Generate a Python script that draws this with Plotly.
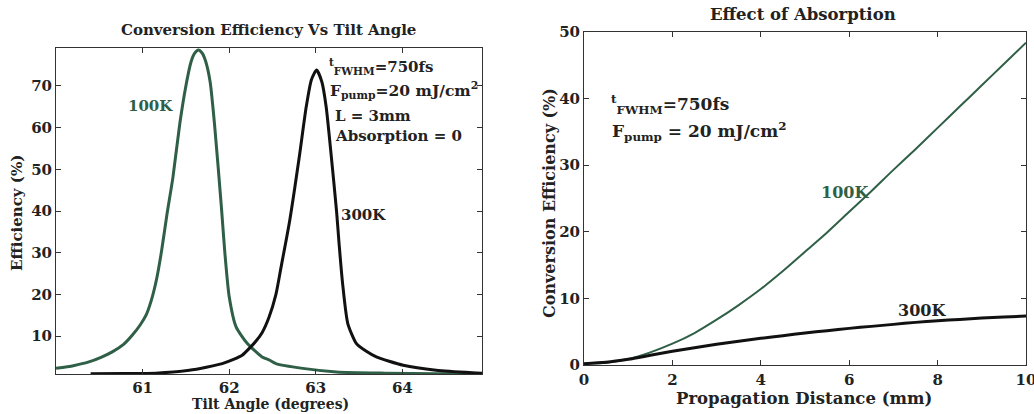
import plotly.graph_objects as go

# ---------------- data ----------------
tilt_100k = [60.0, 60.2, 60.38, 60.52, 60.65, 60.78, 60.88, 60.97, 61.04, 61.1, 61.16, 61.22, 61.28, 61.35,
             61.43, 61.5, 61.56, 61.6, 61.645, 61.69, 61.73, 61.78, 61.83, 61.91, 61.95, 62.0, 62.08, 62.21,
             62.38, 62.47, 62.54, 62.85, 63.24, 63.8, 64.4, 64.92]
eff_100k = [2.25, 2.9, 3.8, 4.9, 6.2, 8.0, 10.2, 12.6, 15.0, 18.5, 23.5, 30.5, 39.0, 48.0,
            61.0, 70.0, 75.8, 77.8, 78.6, 77.8, 75.8, 71.0, 61.0, 41.0, 30.0, 19.5, 12.2, 8.2,
            5.0, 4.2, 3.4, 2.25, 1.4, 1.1, 0.95, 0.9]

tilt_300k = [60.4, 60.8, 61.15, 61.54, 61.75, 61.92, 62.05, 62.15, 62.24, 62.31, 62.38, 62.46,
             62.54, 62.6, 62.7, 62.81, 62.89, 62.95, 63.01, 63.07, 63.12, 63.18, 63.24, 63.27,
             63.31, 63.37, 63.47, 63.58, 63.7, 64.01, 64.39, 64.81, 64.92]
eff_300k = [0.95, 1.0, 1.1, 1.8, 2.6, 3.4, 4.4, 5.4, 7.2, 8.8, 10.8, 14.5,
            20.0, 26.6, 37.8, 53.0, 65.0, 71.5, 73.8, 71.0, 65.0, 53.0, 40.0, 32.0,
            22.6, 13.0, 8.2, 6.4, 5.0, 3.0, 1.8, 1.2, 1.1]

dist = [0, 0.5, 1, 1.5, 2, 2.5, 3, 3.5, 4, 4.5, 5, 5.5, 6, 6.5, 7, 7.5, 8, 8.5, 9, 9.5, 10]
abs_100k = [0.2, 0.35, 0.9, 1.9, 3.2, 4.8, 6.8, 9.0, 11.4, 14.1, 17.0, 19.9, 23.0, 26.1,
            29.3, 32.4, 35.6, 38.8, 42.0, 45.2, 48.4]
abs_300k = [0.2, 0.4, 0.85, 1.45, 2.05, 2.6, 3.1, 3.55, 4.0, 4.4, 4.8, 5.15, 5.5, 5.8,
            6.1, 6.4, 6.65, 6.85, 7.05, 7.2, 7.35]

left_xticks = [61, 62, 63, 64]
left_yticks = [10, 20, 30, 40, 50, 60, 70]
right_xticks = [0, 2, 4, 6, 8, 10]
right_yticks = [0, 10, 20, 30, 40, 50]

# ---------------- styling ----------------
W, H = 1034, 414
GREEN = "#2f5f46"
BLACK = "#111111"
FONT = "DejaVu Serif"

def px(x):
    return x / W

def py(y):
    return 1 - y / H

fig = go.Figure()

fig.add_trace(go.Scatter(x=tilt_100k, y=eff_100k, mode="lines",
                         line=dict(color=GREEN, width=3, shape="spline", smoothing=0.6),
                         xaxis="x", yaxis="y", showlegend=False))
fig.add_trace(go.Scatter(x=tilt_300k, y=eff_300k, mode="lines",
                         line=dict(color=BLACK, width=3, shape="spline", smoothing=0.6),
                         xaxis="x", yaxis="y", showlegend=False))
fig.add_trace(go.Scatter(x=dist, y=abs_100k, mode="lines",
                         line=dict(color=GREEN, width=2, shape="spline", smoothing=0.8),
                         xaxis="x2", yaxis="y2", showlegend=False))
fig.add_trace(go.Scatter(x=dist, y=abs_300k, mode="lines",
                         line=dict(color=BLACK, width=3, shape="spline", smoothing=0.8),
                         xaxis="x2", yaxis="y2", showlegend=False))

axis_common = dict(showline=True, mirror="ticks", linecolor="#333", linewidth=1, ticks="inside",
                   ticklen=5, tickcolor="#333", showgrid=False, zeroline=False,
                   ticklabeloverflow="allow", automargin=False,
                   tickfont=dict(family=FONT, size=15, color="#222"))

fig.update_layout(
    width=W, height=H,
    margin=dict(l=0, r=0, t=0, b=0, pad=0, autoexpand=False),
    paper_bgcolor="white", plot_bgcolor="white",
    xaxis=dict(domain=[px(56), px(482)], range=[60.0, 64.92], tickvals=left_xticks,
               ticktext=[f"<b>{v}</b>" for v in left_xticks], anchor="y",
               ticklabelstandoff=0, **axis_common),
    yaxis=dict(domain=[py(374), py(48)], range=[0.9, 79.1], tickvals=left_yticks,
               ticktext=[f"<b>{v}</b>" for v in left_yticks], anchor="x", **axis_common),
    xaxis2=dict(domain=[px(584), px(1026)], range=[0, 10], tickvals=right_xticks,
                ticktext=[f"<b>{v}</b>" for v in right_xticks], anchor="y2",
                ticklabelstandoff=1, **axis_common),
    yaxis2=dict(domain=[py(365), py(32)], range=[0, 50], tickvals=right_yticks,
                ticktext=[f"<b>{v}</b>" for v in right_yticks], anchor="x2", **axis_common),
)

def ann(text, x, y, size=14, color="#222", xanchor="center", angle=0):
    fig.add_annotation(text=text, x=px(x), y=py(y), xref="paper", yref="paper",
                       showarrow=False, xanchor=xanchor, yanchor="middle", textangle=angle,
                       font=dict(family=FONT, size=size, color=color))

# titles
ann("<b>Conversion Efficiency Vs Tilt Angle</b>", 268, 30, size=15)
ann("<b>Effect of Absorption</b>", 803, 14, size=16.5)
# axis titles
ann("<b>Tilt Angle (degrees)</b>", 270, 404, size=14)
ann("<b>Efficiency (%)</b>", 17, 213, size=15, angle=-90)
ann("<b>Propagation Distance (mm)</b>", 804, 398, size=16.5)
ann("<b>Conversion Efficiency (%)</b>", 550, 203, size=16, angle=-90)

# left-panel notes
ann("<b><sup>t</sup><sub>FWHM</sub>=750fs</b>", 327, 66, size=15, xanchor="left")
ann("<b>F<sub>pump</sub>=20 mJ/cm<sup>2</sup></b>", 328, 91, size=15.5, xanchor="left")
ann("<b>L = 3mm</b>", 333, 116, size=15, xanchor="left")
ann("<b>Absorption = 0</b>", 333, 136, size=15, xanchor="left")
ann("<b>100K</b>", 150, 106, size=15, color=GREEN)
ann("<b>300K</b>", 363, 215, size=15)

# right-panel notes
ann("<b><sup>t</sup><sub>FWHM</sub>=750fs</b>", 609, 104, size=17, xanchor="left")
ann("<b>F<sub>pump</sub> = 20 mJ/cm<sup>2</sup></b>", 610, 131, size=17, xanchor="left")
ann("<b>100K</b>", 845, 192, size=16, color=GREEN)
ann("<b>300K</b>", 922, 310, size=16)

fig.write_html("out.html")
